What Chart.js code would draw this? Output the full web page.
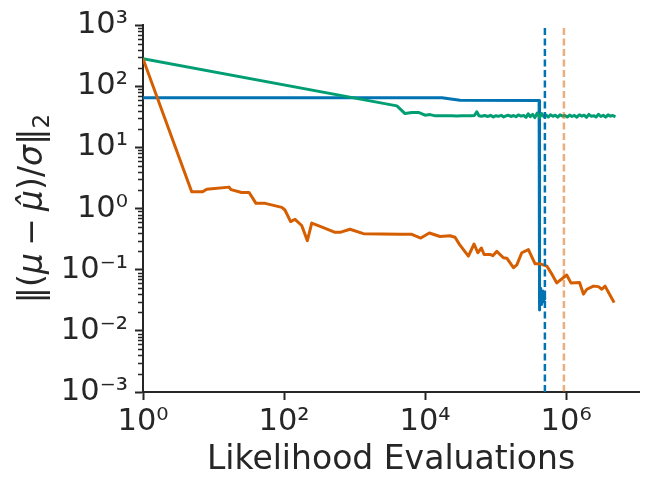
<!DOCTYPE html>
<html>
<head>
<meta charset="utf-8">
<script src="https://cdn.jsdelivr.net/npm/chart.js@4"></script>
<style>
html,body{margin:0;padding:0;background:#fff;}
#wrap{width:648px;height:487px;}
</style>
</head>
<body>
<div id="wrap"><canvas id="c" width="648" height="487"></canvas></div>
<script>
// ---- data ----
const blueX = [1, 17300, 31300, 414000, 415000, 420000, 425000, 430000, 436000, 442000, 448000, 455000, 462000, 470000, 478000, 486000, 495000, 502000];
const blueY = [65.5, 65.5, 59.3, 59.0, 0.022, 0.045, 0.026, 0.050, 0.030, 0.042, 0.027, 0.038, 0.032, 0.045, 0.030, 0.036, 0.033, 0.035];

const greenX = [1, 3980, 5200, 6480, 8040, 10000, 11800, 14000, 17000, 20000, 24000, 28000, 33000, 38000, 45000, 50000, 54100, 58000, 63000, 70000, 78000, 85000, 93000, 100000, 110000, 120000, 130000, 140000, 150000, 165000, 180000, 195000, 210000, 230000, 250000, 270000, 290000, 310000, 335000, 360000, 390000, 420000, 450000, 480000, 520000, 560000, 600000, 650000, 700000, 760000, 820000, 890000, 960000, 1040000, 1120000, 1210000, 1310000, 1420000, 1540000, 1670000, 1800000, 1950000, 2100000, 2280000, 2460000, 2660000, 2880000, 3110000, 3360000, 3640000, 3930000, 4250000, 4600000, 5000000];
const greenY = [284, 48, 36.0, 37.4, 37.6, 33.8, 34.6, 33.0, 33.2, 33.0, 33.0, 32.9, 33.1, 33.0, 33.2, 33.4, 38.4, 33.1, 32.5, 33.4, 32.2, 33.6, 31.5, 33.2, 32.4, 33.6, 31.6, 33.0, 33.8, 32.2, 33.4, 31.9, 34.2, 32.6, 33.5, 31.2, 35.6, 32.0, 34.8, 30.8, 36.8, 31.0, 35.8, 32.2, 33.9, 31.6, 34.4, 32.4, 33.8, 31.4, 34.2, 32.8, 33.5, 31.6, 34.0, 32.2, 33.6, 31.4, 34.4, 32.6, 33.8, 31.2, 34.8, 32.4, 33.2, 31.6, 35.0, 32.2, 33.8, 31.4, 34.2, 32.6, 33.4, 31.8];

const orangeX = [1, 4.9, 7.0, 8.0, 16.6, 17.7, 25, 32, 40, 54, 93, 103, 124, 143, 178, 214, 247, 361, 529, 622, 863, 1333, 4420, 6480, 8690, 11500, 16300, 22600, 26600, 30700, 41100, 49500, 55900, 62900, 68700, 83500, 91200, 104000, 129000, 144000, 179000, 200000, 235000, 292000, 363000, 428000, 532000, 612000, 738000, 1020000, 1170000, 1550000, 1760000, 1970000, 2440000, 2870000, 3210000, 3570000, 4110000, 4800000];
const orangeY = [284, 1.89, 1.89, 2.08, 2.25, 2.05, 1.84, 1.84, 1.22, 1.22, 1.05, 0.95, 0.615, 0.67, 0.53, 0.30, 0.58, 0.49, 0.41, 0.41, 0.46, 0.39, 0.38, 0.38, 0.33, 0.40, 0.35, 0.36, 0.34, 0.26, 0.167, 0.264, 0.19, 0.227, 0.178, 0.178, 0.17, 0.20, 0.157, 0.155, 0.108, 0.12, 0.19, 0.214, 0.125, 0.125, 0.115, 0.089, 0.061, 0.082, 0.061, 0.062, 0.04, 0.048, 0.054, 0.053, 0.048, 0.054, 0.04, 0.029];

const vlineBlueX = 5.0e5;
const vlineOrangeX = 9.3e5;

const xTicks = [1, 1e2, 1e4, 1e6];
const yMajorExp = [-3, -2, -1, 0, 1, 2, 3];
const xMin = 1, xMax = 1.08e7, yMin = 1e-3, yMax = 1e3;

const xTitle = 'Likelihood Evaluations';
// y title pieces: [text, style] ; style: n = upright, i = italic, op = binary operator, sub = subscript
const yTitleParts = [['\u2016(', 'n'], ['\u03BC', 'i'], ['\u2212', 'op'], ['\u03BC\u0302', 'i'], [')/', 'n'], ['\u03C3', 'i'], ['\u2016', 'n'], ['2', 'sub']];

// ---- helpers ----
const SUP = {'0':'\u2070','1':'\u00B9','2':'\u00B2','3':'\u00B3','4':'\u2074','5':'\u2075','6':'\u2076','7':'\u2077','8':'\u2078','9':'\u2079','-':'\u207B'};
function supStr(n){ return String(n).split('').map(c => SUP[c]).join(''); }
function isDecade(v){ const l = Math.log10(v); return Math.abs(l - Math.round(l)) < 1e-9; }
function decadeLabel(v){ return isDecade(v) ? '10' + supStr(Math.round(Math.log10(v))) : ''; }
function pts(xs, ys){ return xs.map((x,i) => ({x:x, y:ys[i]})); }

const yTickVals = [];
for (let e = yMajorExp[0]; e < yMajorExp[yMajorExp.length-1]; e++) {
  for (let m = 1; m <= 9; m++) yTickVals.push(m * Math.pow(10, e));
}
yTickVals.push(Math.pow(10, yMajorExp[yMajorExp.length-1]));

const INK = '#262626';
const FAM = "'DejaVu Sans', sans-serif";
const TITLE_SIZE = 33;

const minorTicks = {
  id: 'minorTicks',
  afterDraw(chart) {
    const s = chart.scales.y;
    const ctx = chart.ctx;
    ctx.save();
    ctx.strokeStyle = INK;
    ctx.lineWidth = 1.5;
    ctx.beginPath();
    yTickVals.forEach(v => {
      if (isDecade(v)) return;
      const py = Math.round(s.getPixelForValue(v)) + 0.5;
      ctx.moveTo(s.right, py);
      ctx.lineTo(s.right - 5, py);
    });
    ctx.stroke();
    ctx.restore();
  }
};

const yTitlePlugin = {
  id: 'yTitle',
  afterDraw(chart) {
    const ctx = chart.ctx;
    const area = chart.chartArea;
    const fontFor = st => st === 'i' ? `italic ${TITLE_SIZE}px ${FAM}` : (st === 'sub' ? `${TITLE_SIZE*0.7}px ${FAM}` : `${TITLE_SIZE}px ${FAM}`);
    const gap = TITLE_SIZE * 0.22;
    ctx.save();
    let total = 0;
    const widths = yTitleParts.map(([t, st]) => { ctx.font = fontFor(st); const w = ctx.measureText(t).width + (st === 'op' ? 2*gap : 0); total += w; return w; });
    ctx.translate(42, (area.top + area.bottom) / 2);
    ctx.rotate(-Math.PI / 2);
    ctx.fillStyle = INK;
    ctx.textBaseline = 'alphabetic';
    ctx.textAlign = 'left';
    let x = -total / 2;
    yTitleParts.forEach(([t, st], i) => {
      ctx.font = fontFor(st);
      const dx = st === 'op' ? gap : 0;
      const dy = st === 'sub' ? TITLE_SIZE * 0.2 : 0;
      ctx.fillText(t, x + dx, dy);
      x += widths[i];
    });
    ctx.restore();
  }
};

new Chart(document.getElementById('c'), {
  type: 'line',
  data: {
    datasets: [
      {data: [{x: vlineBlueX, y: yMin}, {x: vlineBlueX, y: yMax}], borderColor: '#0173b2', borderWidth: 2.5, borderDash: [7, 3.5], pointRadius: 0, order: 0},
      {data: [{x: vlineOrangeX, y: yMin}, {x: vlineOrangeX, y: yMax}], borderColor: 'rgba(213,94,0,0.5)', borderWidth: 2.5, borderDash: [7, 3.5], pointRadius: 0, order: 1},
      {data: pts(orangeX, orangeY), borderColor: '#d55e00', borderWidth: 3, pointRadius: 0, order: 2},
      {data: pts(greenX, greenY), borderColor: '#029e73', borderWidth: 3, pointRadius: 0, order: 3},
      {data: pts(blueX, blueY), borderColor: '#0173b2', borderWidth: 3, pointRadius: 0, order: 4}
    ]
  },
  options: {
    responsive: false,
    animation: false,
    events: [],
    layout: {padding: {top: 23, right: 9, left: 0, bottom: 0}},
    elements: {line: {tension: 0, borderJoinStyle: 'round', fill: false}},
    plugins: {legend: {display: false}, tooltip: {enabled: false}},
    scales: {
      x: {
        type: 'logarithmic',
        min: xMin, max: xMax,
        afterBuildTicks: s => { s.ticks = xTicks.map(v => ({value: v, major: true})); },
        afterFit: s => { s.height = 95; },
        ticks: {autoSkip: false, maxRotation: 0, padding: 4, color: INK, font: {family: FAM, size: 30.5}, callback: v => decadeLabel(v)},
        grid: {display: true, drawOnChartArea: false, drawTicks: true, tickLength: 8, tickWidth: 2, tickColor: INK},
        border: {display: true, color: INK, width: 2},
        title: {display: true, text: xTitle, color: INK, font: {family: FAM, size: TITLE_SIZE}, padding: {top: 0, bottom: 7}}
      },
      y: {
        type: 'logarithmic',
        min: yMin, max: yMax,
        afterBuildTicks: s => { s.ticks = yTickVals.map(v => ({value: v, major: isDecade(v)})); },
        afterFit: s => { s.width = 143; },
        ticks: {autoSkip: false, padding: 7, color: INK, font: {family: FAM, size: 30.5}, callback: v => decadeLabel(v)},
        grid: {display: true, drawOnChartArea: false, drawTicks: true, tickLength: 8, tickWidth: 2,
               tickColor: c => (c.tick && isDecade(c.tick.value)) ? INK : 'rgba(0,0,0,0)'},
        border: {display: true, color: INK, width: 2},
        title: {display: false}
      }
    }
  },
  plugins: [minorTicks, yTitlePlugin]
});
</script>
</body>
</html>
